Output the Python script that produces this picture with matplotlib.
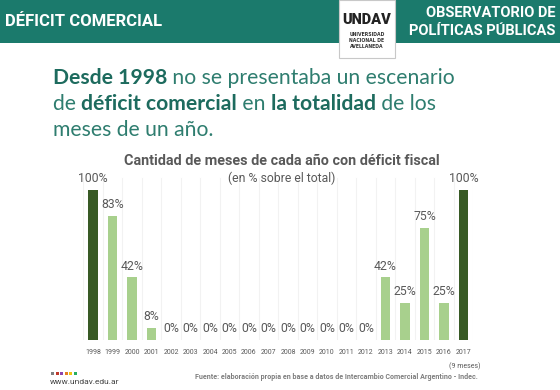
import matplotlib
matplotlib.use("Agg")
import matplotlib.pyplot as plt
from matplotlib.patches import Rectangle

years = ["1998", "1999", "2000", "2001", "2002", "2003", "2004", "2005", "2006", "2007",
         "2008", "2009", "2010", "2011", "2012", "2013", "2014", "2015", "2016", "2017"]
values = [100, 83, 42, 8, 0, 0, 0, 0, 0, 0, 0, 0, 0, 0, 0, 42, 25, 75, 25, 100]
labels = ["100%", "83%", "42%", "8%", "0%", "0%", "0%", "0%", "0%", "0%", "0%", "0%",
          "0%", "0%", "0%", "42%", "25%", "75%", "25%", "100%"]

W, H = 560, 390
fig = plt.figure(figsize=(W / 100, H / 100), dpi=100)
fig.patch.set_facecolor("white")

def fx(x):
    return x / W

def fy(y):
    return 1 - y / H

TEAL = "#1b7a6c"
DARK = "#385a25"
LIGHT = "#a8d08d"
GRAY = "#595959"

# header band
fig.add_artist(Rectangle((0, fy(43)), 1, 43 / H, transform=fig.transFigure,
                         facecolor=TEAL, edgecolor="none", zorder=0))
fig.text(fx(5), fy(22), "DÉFICIT COMERCIAL", color="white", fontsize=12,
         fontweight="bold", family="Roboto", va="center", ha="left")
fig.text(fx(555), fy(13), "OBSERVATORIO DE", color="white", fontsize=10.5,
         fontweight="bold", family="Roboto", va="center", ha="right")
fig.text(fx(555), fy(31), "POLÍTICAS PÚBLICAS", color="white", fontsize=10.5,
         fontweight="bold", family="Roboto", va="center", ha="right")

# logo box
fig.add_artist(Rectangle((fx(339), fy(58)), 56 / W, 58 / H, transform=fig.transFigure,
                         facecolor="white", edgecolor="#c8c8c8", lw=0.8, zorder=2))
fig.text(fx(367), fy(20), "UNDAV", color="#222222", fontsize=10.5, fontweight="heavy",
         family="Roboto", ha="center", va="center", zorder=3)
for i, t in enumerate(["UNIVERSIDAD", "NACIONAL DE", "AVELLANEDA"]):
    fig.text(fx(367), fy(35 + i * 5.5), t, color="#333333", fontsize=3.3,
             fontweight="bold", family="DejaVu Sans", ha="center", va="center", zorder=3)

# heading with mixed weights
BOLDC = "#1d6b5e"
REGC = "#2e7d6f"
lines = [
    [("Desde 1998", True), (" no se presentaba un escenario", False)],
    [("de ", False), ("déficit comercial", True), (" en ", False), ("la totalidad", True), (" de los", False)],
    [("meses de un año.", False)],
]
fig.canvas.draw()
renderer = fig.canvas.get_renderer()
ys = [78, 104, 130]
for line, yy in zip(lines, ys):
    x = 53
    for txt, bold in line:
        t = fig.text(fx(x), fy(yy), txt, color=BOLDC if bold else REGC, fontsize=15.2,
                     fontweight="bold" if bold else "normal", family="Lato",
                     ha="left", va="center")
        bb = t.get_window_extent(renderer=renderer)
        x += bb.width

# chart titles
fig.text(fx(282), fy(161), "Cantidad de meses de cada año con déficit fiscal", color=GRAY,
         fontsize=10.4, fontweight="bold", family="Roboto", ha="center", va="center")
fig.text(fx(282), fy(178), "(en % sobre el total)", color=GRAY,
         fontsize=8.8, family="Roboto", ha="center", va="center")

# bar axes
step = 19.5
left_px = 93 - step / 2
top_val = 115
ax = fig.add_axes([fx(left_px), fy(340), 20 * step / W, 150 * top_val / 100 / H])
ax.set_xlim(-0.5, 19.5)
ax.set_ylim(0, top_val)
ax.axis("off")
for i in range(21):
    ax.plot([i - 0.5, i - 0.5], [0, 108], color="#f2f2f2", lw=0.8, zorder=0)
colors = [DARK if v == 100 else LIGHT for v in values]
ax.bar(range(len(years)), values, width=0.47, color=colors, zorder=2)
for i, (v, lab) in enumerate(zip(values, labels)):
    ax.text(i, v + 3, lab, ha="center", va="bottom", color=GRAY, fontsize=8.8,
            family="Roboto", clip_on=False)
for i, y in enumerate(years):
    fig.text(fx(93 + i * step), fy(352), y, ha="center", va="center", color=GRAY,
             fontsize=5, family="Roboto")
fig.text(fx(465), fy(366), "(9 meses)", ha="center", va="center", color=GRAY,
         fontsize=5, family="Roboto")

# footer
dot_colors = ["#7f7f7f", "#c0392b", "#8e44ad", "#e67e22", "#f1c40f", "#27ae60"]
for i, c in enumerate(dot_colors):
    fig.add_artist(Rectangle((fx(51 + i * 4.5), fy(375)), 3 / W, 3 / H,
                             transform=fig.transFigure, facecolor=c, edgecolor="none"))
fig.text(fx(50), fy(382), "www.undav.edu.ar", color="#444444", fontsize=6,
         family="Roboto", ha="left", va="center")
fig.text(fx(478), fy(377), "Fuente: elaboración propia en base a datos de Intercambio Comercial Argentino - Indec.",
         color="#7f7f7f", fontsize=5.1, fontweight="bold", family="Roboto", ha="right", va="center")

fig.savefig("out.png", dpi=100, facecolor="white")
